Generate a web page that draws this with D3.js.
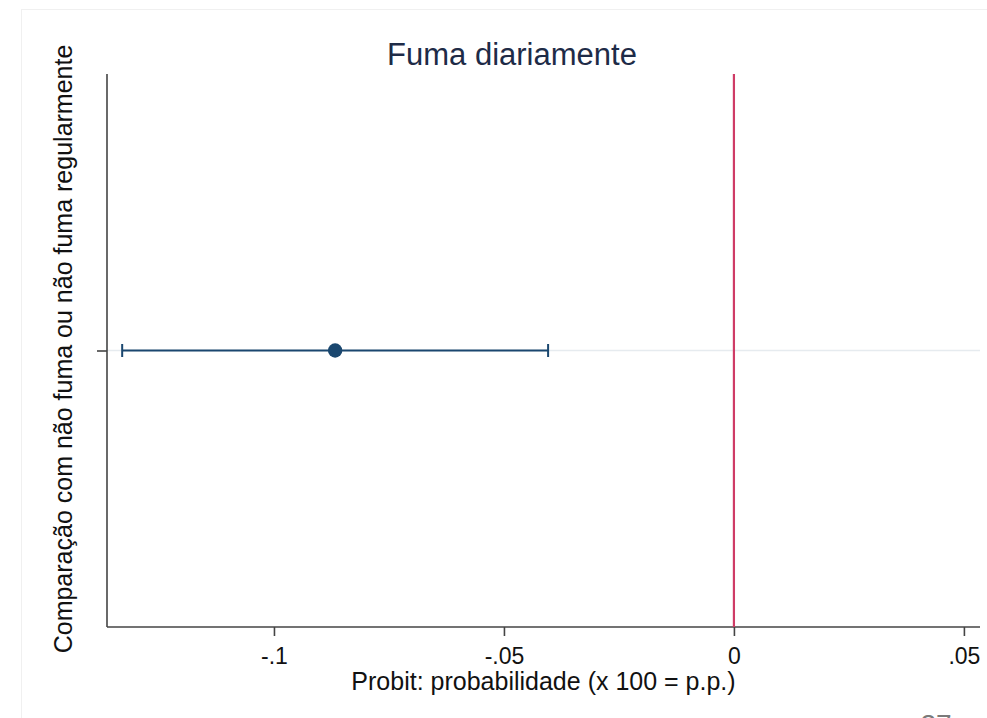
<!DOCTYPE html>
<html>
<head>
<meta charset="utf-8">
<script src="https://cdn.jsdelivr.net/npm/d3@7"></script>
<style>
  html, body { margin: 0; padding: 0; background: #fff; }
  svg { display: block; }
  text { font-family: "Liberation Sans", Arial, sans-serif; }
</style>
</head>
<body>
<svg id="chart" width="987" height="718"></svg>
<script>
// Coefficient plot: probit marginal effect with 95% confidence interval
const chartTitle = "Fuma diariamente";
const yTitle = "Comparação com não fuma ou não fuma regularmente";
const xTitle = "Probit: probabilidade (x 100 = p.p.)";
const pageNumber = "27";

const categories = ["Fuma diariamente"];
const estimates = [-0.0867];
const ciLower = [-0.1330];
const ciUpper = [-0.0404];

const xTickValues = [-0.1, -0.05, 0, 0.05];
const xTickLabels = ["-.1", "-.05", "0", ".05"];
const xDomain = [-0.1363, 0.0535];
const referenceValue = [0];

const svg = d3.select("#chart");
const W = 987, H = 718;
const plot = { left: 107, right: 980, top: 74, bottom: 627 };

// faint page frame
svg.append("rect")
  .attr("x", 21.5).attr("y", 9.5)
  .attr("width", W).attr("height", H)
  .attr("fill", "none").attr("stroke", "#f0f0f0").attr("stroke-width", 1);

const x = d3.scaleLinear().domain(xDomain).range([plot.left, plot.right]);
const y = d3.scalePoint().domain(categories).range([plot.top, plot.bottom]).padding(0.5);

// horizontal grid line at each category
svg.append("g").selectAll("line").data(categories).join("line")
  .attr("x1", plot.left).attr("x2", plot.right)
  .attr("y1", d => y(d)).attr("y2", d => y(d))
  .attr("stroke", "#e6ebef").attr("stroke-width", 1.5);

// x axis
const xAxis = d3.axisBottom(x)
  .tickValues(xTickValues)
  .tickFormat((d, i) => xTickLabels[i])
  .tickSizeInner(9).tickSizeOuter(0).tickPadding(12);
const gx = svg.append("g").attr("transform", `translate(0,${plot.bottom})`).call(xAxis);
gx.select(".domain").attr("stroke", "#444").attr("stroke-width", 1.6)
  .attr("d", `M${plot.left},0H${plot.right}`);
gx.selectAll(".tick line").attr("stroke", "#444").attr("stroke-width", 1.6);
gx.selectAll(".tick text").attr("font-size", 23).attr("fill", "#111")
  .attr("font-family", "Liberation Sans, Arial, sans-serif");

// y axis (no tick labels)
const yAxis = d3.axisLeft(y).tickFormat("").tickSizeInner(10).tickSizeOuter(0);
const gy = svg.append("g").attr("transform", `translate(${plot.left},0)`).call(yAxis);
gy.select(".domain").attr("stroke", "#444").attr("stroke-width", 1.6)
  .attr("d", `M0,${plot.top}V${plot.bottom}`);
gy.selectAll(".tick line").attr("stroke", "#444").attr("stroke-width", 1.6);

// reference line at zero
svg.append("g").selectAll("line").data(referenceValue).join("line")
  .attr("x1", d => x(d)).attr("x2", d => x(d))
  .attr("y1", plot.top).attr("y2", plot.bottom)
  .attr("stroke", "#cf3c66").attr("stroke-width", 2.2);

// confidence intervals
const navy = "#1a476f";
const ci = svg.append("g");
categories.forEach((c, i) => {
  const cy = y(c);
  ci.append("line")
    .attr("x1", x(ciLower[i])).attr("x2", x(ciUpper[i]))
    .attr("y1", cy).attr("y2", cy)
    .attr("stroke", navy).attr("stroke-width", 2);
  [ciLower[i], ciUpper[i]].forEach(v => {
    ci.append("line")
      .attr("x1", x(v)).attr("x2", x(v))
      .attr("y1", cy - 6.5).attr("y2", cy + 6.5)
      .attr("stroke", navy).attr("stroke-width", 2);
  });
});

// point estimates
svg.append("g").selectAll("circle").data(categories).join("circle")
  .attr("cx", (d, i) => x(estimates[i]))
  .attr("cy", d => y(d))
  .attr("r", 7.2)
  .attr("fill", navy);

// titles
svg.append("text")
  .attr("x", 512).attr("y", 65)
  .attr("text-anchor", "middle")
  .attr("font-size", 31).attr("fill", "#1e2b47")
  .text(chartTitle);

svg.append("text")
  .attr("x", (plot.left + plot.right) / 2).attr("y", 690)
  .attr("text-anchor", "middle")
  .attr("font-size", 25).attr("fill", "#111")
  .text(xTitle);

svg.append("text")
  .attr("transform", `translate(72,349) rotate(-90)`)
  .attr("text-anchor", "middle")
  .attr("font-size", 25).attr("fill", "#111")
  .text(yTitle);

// page number, partly below the visible area
svg.append("text")
  .attr("x", 936).attr("y", 734)
  .attr("text-anchor", "middle")
  .attr("font-size", 28).attr("fill", "#7a7a7a")
  .text(pageNumber);
</script>
</body>
</html>
